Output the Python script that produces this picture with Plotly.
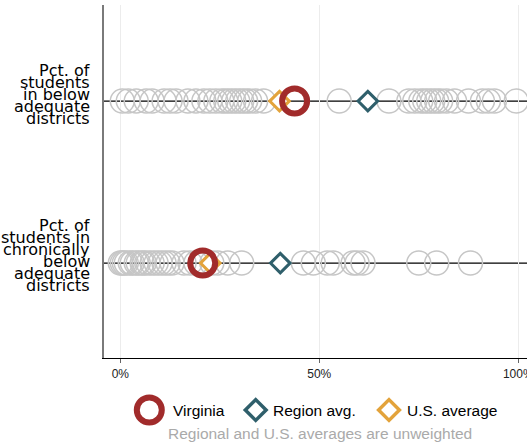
import plotly.graph_objects as go

# ---------------- data ----------------
row_labels = [
    ["Pct. of", "students", "in below", "adequate", "districts"],
    ["Pct. of", "students in", "chronically", "below", "adequate", "districts"],
]
row_y = [1, 0]

others_below = [0.5, 2, 4, 6.5, 8, 11, 12.5, 14, 17, 19, 21, 22.5, 24, 25.5, 26.5,
                27.5, 28.5, 29.5, 30.5, 31.5, 32.5, 34, 36, 44.5, 55, 67.5, 72.5,
                74, 75.5, 76.5, 77.5, 78.5, 79.5, 80.5, 82, 84, 87.5, 91, 92.5, 94, 99.5]
others_chronic = [0, 0.5, 1, 1.5, 2.5, 3, 4, 4.5, 5.5, 6, 7, 8, 9, 10, 11, 12, 13,
                  16, 17.5, 19, 21, 23, 24.5, 27, 30.5, 46, 48.5, 52, 53.5, 58.5,
                  59.5, 61, 75, 79.5, 88]
virginia = [43.8, 20.7]
region_avg = [62.2, 40.2]
us_avg = [40.0, 22.6]

x_ticks = [0, 50, 100]
x_tick_text = ["0%", "50%", "100%"]

legend_names = ["Virginia", "Region avg.", "U.S. average"]
caption = "Regional and U.S. averages are unweighted"

# ---------------- styles ----------------
W, H = 527, 443
TOP = 5
PLOT_L = 104
PLOT_B = 358
GREY = "#c6c6c6"
RED = "#a12b2b"
TEAL = "#2f5f6b"
ORANGE = "#e3a33b"

paper_h = H - TOP
y_dom0 = (H - PLOT_B) / paper_h

fig = go.Figure()

# grey circles (other states)
gx = others_below + others_chronic
gy = [row_y[0]] * len(others_below) + [row_y[1]] * len(others_chronic)
fig.add_trace(go.Scatter(
    x=gx, y=gy, mode="markers",
    marker=dict(symbol="circle-open", size=24, color=GREY, line=dict(width=1.5)),
    hoverinfo="skip", showlegend=False))

fig.add_trace(go.Scatter(
    x=region_avg, y=row_y, mode="markers",
    marker=dict(symbol="diamond", size=15, color="white",
                line=dict(color=TEAL, width=3)),
    showlegend=False))
fig.add_trace(go.Scatter(
    x=us_avg, y=row_y, mode="markers",
    marker=dict(symbol="diamond", size=15, color="white",
                line=dict(color=ORANGE, width=3)),
    showlegend=False))
fig.add_trace(go.Scatter(
    x=virginia, y=row_y, mode="markers",
    marker=dict(symbol="circle-open", size=25, color=RED, line=dict(width=6)),
    showlegend=False))

# horizontal row lines
for yv in row_y:
    fig.add_shape(type="line", xref="paper", yref="y",
                  x0=PLOT_L / W, x1=1, y0=yv, y1=yv,
                  line=dict(color="black", width=1.3), layer="below")

# row labels (right aligned, tight line spacing)
label_offsets = [
    [-30.3, -18.4, -6.5, 5.4, 17.3],
    [-38, -26, -14, -2, 10, 22],
]
for lines, offs, yv in zip(row_labels, label_offsets, row_y):
    for txt, off in zip(lines, offs):
        fig.add_annotation(text=txt, xref="paper", yref="y", x=92 / W, y=yv,
                           xanchor="right", yanchor="middle", yshift=-off,
                           showarrow=False,
                           font=dict(family="DejaVu Sans", size=16, color="black"))

# legend drawn on an overlay axis (pixel units)
leg_mx = [149.3, 255.7, 389]
leg_y = 410
fig.add_trace(go.Scatter(
    x=[leg_mx[0]], y=[leg_y], xaxis="x2", yaxis="y2", mode="markers",
    marker=dict(symbol="circle-open", size=25, color=RED, line=dict(width=6)),
    cliponaxis=False, showlegend=False, hoverinfo="skip"))
fig.add_trace(go.Scatter(
    x=leg_mx[1:], y=[leg_y, leg_y], xaxis="x2", yaxis="y2", mode="markers",
    marker=dict(symbol="diamond", size=16, color="white",
                line=dict(color=[TEAL, ORANGE], width=3.5)),
    cliponaxis=False, showlegend=False, hoverinfo="skip"))
leg_tx = [170.5, 271, 404.5]
for name, tx in zip(legend_names, leg_tx):
    fig.add_annotation(text=name, xref="x2", yref="y2", x=tx, y=leg_y,
                       xanchor="left", yanchor="middle", showarrow=False,
                       font=dict(family="Liberation Sans", size=15.5, color="black"))
fig.add_annotation(text=caption, xref="x2", yref="y2", x=319.5, y=433.5,
                   xanchor="center", yanchor="middle", showarrow=False,
                   font=dict(family="Liberation Sans", size=15.5, color="#aaaaaa"))

fig.update_layout(
    width=W, height=H,
    margin=dict(l=0, r=0, t=TOP, b=0, pad=0),
    paper_bgcolor="white", plot_bgcolor="white",
    template="none",
    showlegend=False,
    xaxis=dict(domain=[PLOT_L / W, 1], range=[-4.1, 102.2],
               tickvals=x_ticks, ticktext=x_tick_text,
               showgrid=True, gridcolor="#ececec", gridwidth=1,
               zeroline=False, showline=True, linecolor="black", linewidth=1.3,
               ticks="outside", ticklen=4, tickcolor="#666", tickwidth=1,
               ticklabeloverflow="allow",
               tickfont=dict(family="Liberation Sans", size=12, color="#222"),
               fixedrange=True),
    yaxis=dict(domain=[y_dom0, 1], range=[-0.586, 1.593],
               showticklabels=False, showgrid=False, zeroline=False,
               showline=True, linecolor="#7a7a7a", linewidth=2, ticks="",
               fixedrange=True),
    xaxis2=dict(domain=[0, 1], range=[0, W], anchor="y2", visible=False,
                fixedrange=True),
    yaxis2=dict(domain=[0, y_dom0], range=[H, PLOT_B], anchor="x2",
                visible=False, fixedrange=True),
)

fig.write_html("out.html", config={"displayModeBar": False},
               post_script="document.body.style.margin='0';document.body.style.overflow='hidden';")
